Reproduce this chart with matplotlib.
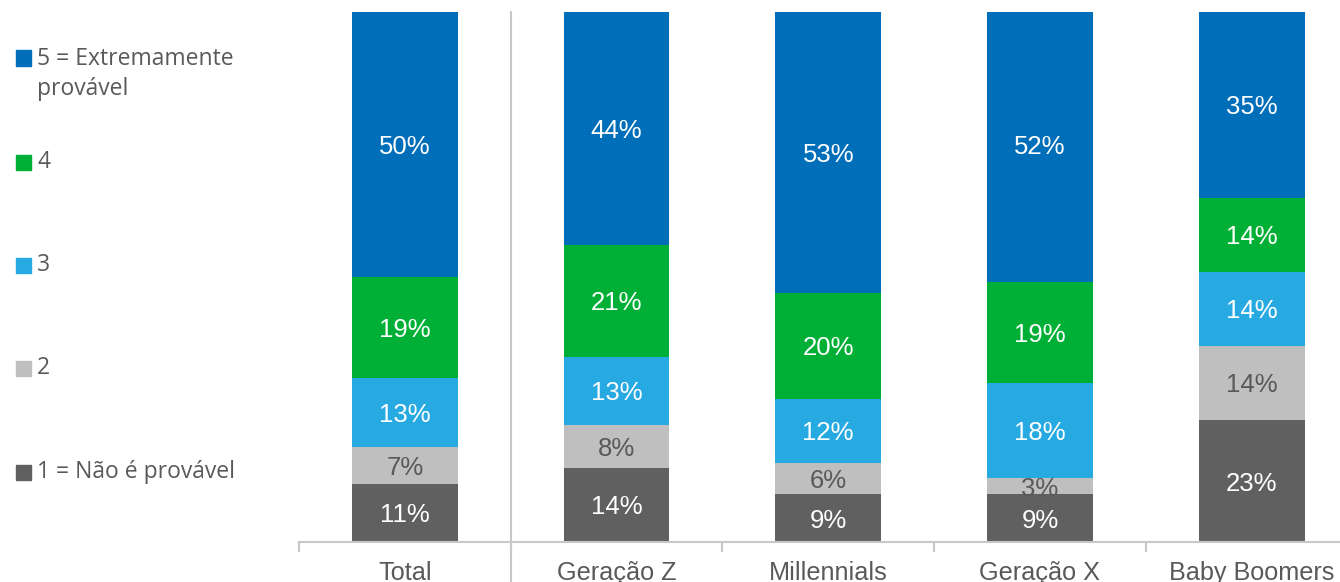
import matplotlib
matplotlib.use("Agg")
import matplotlib.pyplot as plt
from matplotlib.patches import Rectangle
import numpy as np

categories = ["Total", "Geração Z", "Millennials", "Geração X", "Baby Boomers"]
series_names = ["1 = Não é provável", "2", "3", "4", "5 = Extremamente\nprovável"]
v1 = [11, 14, 9, 9, 23]
v2 = [7, 8, 6, 3, 14]
v3 = [13, 13, 12, 18, 14]
v4 = [19, 21, 20, 19, 14]
v5 = [50, 44, 53, 52, 35]
series_values = [v1, v2, v3, v4, v5]
colors = ["#606060", "#BFBFBF", "#27A9E1", "#00B036", "#006EB9"]
label_colors = ["white", "#595959", "white", "white", "white"]

W, H = 1340, 582
fig = plt.figure(figsize=(W / 100, H / 100), dpi=100)
ax = fig.add_axes([299 / W, 40 / H, 1058.5 / W, 530 / H])

x = np.arange(len(categories))
bottom = np.zeros(len(categories))
for vals, col, lc in zip(series_values, colors, label_colors):
    vals = np.array(vals, dtype=float)
    ax.bar(x, vals, width=0.5, bottom=bottom, color=col, edgecolor="none", zorder=2)
    for xi, b, v in zip(x, bottom, vals):
        ax.text(xi, b + v / 2, f"{int(v)}%", ha="center", va="center_baseline",
                fontsize=18.5, color=lc, family="Liberation Sans", zorder=3)
    bottom += vals

ax.set_xlim(-0.5, len(categories) - 0.5)
ax.set_ylim(0, 100)
ax.set_yticks([])
for s in ["top", "right", "left"]:
    ax.spines[s].set_visible(False)
ax.spines["bottom"].set_color("#C8C8C8")
ax.spines["bottom"].set_linewidth(1.5)

bounds = np.arange(len(categories) + 1) - 0.5
ax.set_xticks(bounds)
ax.set_xticklabels([])
ax.tick_params(axis="x", which="major", length=7, width=1.5, color="#C8C8C8")
ax.set_xticks(x, minor=True)
ax.set_xticklabels(categories, minor=True, fontsize=18.2, color="#595959",
                   family="Liberation Sans")
ax.tick_params(axis="x", which="minor", length=0, pad=14)

# separator between Total and the generations
trans = ax.get_xaxis_transform()
ax.plot([0.5, 0.5], [-45 / 530, 1.0], transform=trans, color="#C8C8C8",
        lw=1.5, clip_on=False, zorder=1)

# legend (top to bottom: 5 .. 1)
leg_y = [58, 162, 265, 368, 472]
for i, yy in enumerate(leg_y):
    idx = len(series_names) - 1 - i
    fig.patches.append(Rectangle((16 / W, (H - yy - 7.5) / H), 15 / W, 15 / H,
                                 transform=fig.transFigure, color=colors[idx]))
    if "\n" in series_names[idx]:
        fig.text(37 / W, (H - yy + 11) / H, series_names[idx], ha="left", va="top",
                 fontsize=16.5, color="#595959", family="Open Sans", linespacing=1.35)
    else:
        fig.text(37 / W, (H - yy) / H, series_names[idx], ha="left", va="center",
                 fontsize=16.5, color="#595959", family="Open Sans")

fig.savefig("out.png", dpi=100)
